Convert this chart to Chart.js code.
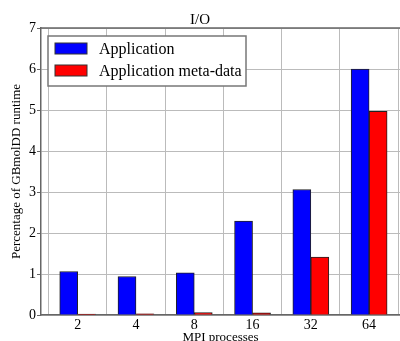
<!DOCTYPE html>
<html>
<head>
<meta charset="utf-8">
<script src="https://cdn.jsdelivr.net/npm/chart.js@4"></script>
<style>
  html, body { margin: 0; padding: 0; background: #fff; }
  #wrap { width: 400px; height: 341px; }
</style>
</head>
<body>
<div id="wrap"><canvas id="grafico"></canvas></div>
<script>
// dados
const procLabels = ["2", "4", "8", "16", "32", "64"];
const appValues = [1.06, 0.94, 1.03, 2.29, 3.06, 6.0];
const metaValues = [0.02, 0.03, 0.06, 0.05, 1.41, 4.97];
const yTicks = [0, 1, 2, 3, 4, 5, 6, 7];

const SERIF = "'Liberation Serif', 'DejaVu Serif', serif";

// moldura superior + legenda dentro da area do grafico
const framePlugin = {
    id: "frame",
    afterDraw(chart) {
        const { ctx, chartArea: a } = chart;
        ctx.save();
        ctx.strokeStyle = "#666";
        ctx.lineWidth = 1.5;
        ctx.beginPath();
        ctx.moveTo(a.left, a.top);
        ctx.lineTo(a.right, a.top);
        ctx.stroke();

        // legenda
        const x = a.left + 7, y = a.top + 8, w = 198, h = 50;
        ctx.fillStyle = "#fff";
        ctx.fillRect(x, y, w, h);
        ctx.strokeStyle = "#777";
        ctx.lineWidth = 1.5;
        ctx.strokeRect(x, y, w, h);
        ctx.font = "16px " + SERIF;
        ctx.textBaseline = "middle";
        chart.data.datasets.forEach((ds, i) => {
            const cy = y + 12.5 + i * 22;
            ctx.fillStyle = ds.backgroundColor;
            ctx.fillRect(x + 7, cy - 5.5, 32, 11);
            ctx.strokeStyle = "#333";
            ctx.lineWidth = 1;
            ctx.strokeRect(x + 7, cy - 5.5, 32, 11);
            ctx.fillStyle = "#000";
            ctx.fillText(ds.label, x + 51, cy + 1);
        });
        ctx.restore();
    }
};

const toPoints = arr => arr.map((v, i) => ({ x: i, y: v }));

new Chart(document.getElementById("grafico"), {
    type: "bar",
    data: {
        datasets: [
            {
                label: "Application",
                data: toPoints(appValues),
                backgroundColor: "#0000ff",
                borderColor: "#222",
                borderWidth: 1,
                barThickness: 18
            },
            {
                label: "Application meta-data",
                data: toPoints(metaValues),
                backgroundColor: "#ff0000",
                borderColor: "#222",
                borderWidth: 1,
                barThickness: 18
            }
        ]
    },
    options: {
        responsive: true,
        maintainAspectRatio: false,
        animation: false,
        layout: { padding: { left: 0, right: 0, top: 0, bottom: 0 } },
        plugins: {
            legend: { display: false },
            tooltip: { enabled: false },
            title: {
                display: true,
                text: "I/O",
                color: "#000",
                font: { family: SERIF, size: 15, weight: "normal" },
                padding: { top: 11, bottom: -1 }
            }
        },
        scales: {
            x: {
                type: "linear",
                min: -0.63,
                max: 5.53,
                offset: false,
                afterFit(scale) { scale.height = 26; },
                ticks: {
                    stepSize: 1,
                    includeBounds: false,
                    padding: 2,
                    color: "#000",
                    font: { family: SERIF, size: 14 },
                    callback: v => procLabels[v] ?? ""
                },
                grid: {
                    color: "#bbb",
                    borderDash: [1, 2],
                    drawTicks: false
                },
                border: { color: "#666", width: 1.5 },
                title: {
                    display: true,
                    text: "MPI processes",
                    color: "#000",
                    font: { family: SERIF, size: 13 },
                    padding: { top: 0, bottom: -4 }
                }
            },
            y: {
                min: yTicks[0],
                max: yTicks[yTicks.length - 1],
                afterFit(scale) { scale.width = 41; },
                afterBuildTicks(scale) { scale.ticks = yTicks.map(v => ({ value: v })); },
                ticks: {
                    padding: 1,
                    color: "#000",
                    font: { family: SERIF, size: 14 }
                },
                grid: {
                    color: "#bbb",
                    borderDash: [1, 2],
                    tickLength: 4,
                    tickColor: "#666",
                    tickBorderDash: []
                },
                border: { color: "#666", width: 1.5 },
                title: {
                    display: true,
                    text: "Percentage of GBmolDD runtime",
                    color: "#000",
                    font: { family: SERIF, size: 13 },
                    padding: { top: 9, bottom: 0 }
                }
            }
        }
    },
    plugins: [framePlugin]
});
</script>
</body>
</html>
